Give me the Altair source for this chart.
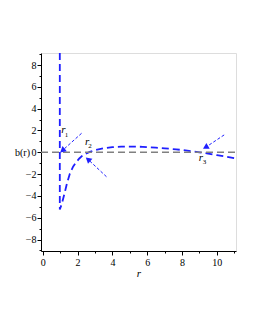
import altair as alt
import pandas as pd

# curve b(r)
curve_r = [0.98, 0.98, 1.1, 1.27, 1.4, 1.56, 1.75, 1.94, 2.1, 2.32, 2.7, 3.0, 3.5, 4.0, 4.5, 5.0,
           5.75, 6.5, 7.0, 7.66, 8.3, 9.0, 9.5, 10.0, 10.5, 11.1]
curve_b = [9.1, -5.25, -4.7, -3.65, -2.8, -1.95, -1.3, -0.88, -0.57, -0.25, 0.03, 0.2, 0.37, 0.47,
           0.51, 0.52, 0.5, 0.42, 0.36, 0.27, 0.15, 0.0, -0.12, -0.26, -0.4, -0.57]

zero_r = [-0.1, 11.1]
zero_b = [0, 0]

# arrows (start, head)
arrow_id = ["a1", "a2", "a3"]
arrow_r0 = [2.23, 3.66, 10.42]
arrow_b0 = [1.74, -2.24, 1.59]
arrow_r1 = [1.13, 2.6, 9.35]
arrow_b1 = [0.16, -0.65, 0.45]
arrow_angle = [230, 311, 240]

# labels r1 r2 r3
lab_r = [1.18, 2.55, 9.09]
lab_b = [2.05, 0.97, -0.55]
sub_text = ["1", "2", "3"]
sub_r = [1.37, 2.72, 9.29]
sub_b = [1.62, 0.55, -0.9]

x_major = [0, 2, 4, 6, 8, 10]
x_minor = [1, 3, 5, 7, 9, 11]
y_major = [-8, -6, -4, -2, 0, 2, 4, 6, 8]
y_minor = [-9, -7, -5, -3, -1, 1, 3, 5, 7, 9]

XD = [-0.1, 11.1]
YD = [-9.05, 9.1]
FONT = "Liberation Serif"
BLUE = "#1f1fff"

xs = alt.Scale(domain=XD, nice=False, zero=False)
ys = alt.Scale(domain=YD, nice=False, zero=False)

df_curve = pd.DataFrame({"r": curve_r, "b": curve_b, "i": range(len(curve_r))})
df_zero = pd.DataFrame({"r": zero_r, "b": zero_b})

rows = []
for k in range(len(arrow_id)):
    rows.append({"id": arrow_id[k], "r": arrow_r0[k], "b": arrow_b0[k], "o": 0})
    rows.append({"id": arrow_id[k], "r": arrow_r1[k], "b": arrow_b1[k], "o": 1})
df_arr = pd.DataFrame(rows)
df_head = pd.DataFrame({"r": arrow_r1, "b": arrow_b1, "a": arrow_angle})
df_lab = pd.DataFrame({"r": lab_r, "b": lab_b, "t": ["r"] * 3})
df_sub = pd.DataFrame({"r": sub_r, "b": sub_b, "t": sub_text})

curve = alt.Chart(df_curve).mark_line(color=BLUE, strokeWidth=1.8, strokeDash=[7, 4], clip=True).encode(
    x=alt.X("r:Q", scale=xs, axis=alt.Axis(
        orient="bottom", values=x_major, title="r", titleFontStyle="italic", titleFont=FONT,
        titleFontSize=11, titleFontWeight="normal", titleY=22, titleBaseline="middle",
        labelFont=FONT, labelFontSize=10, labelPadding=2, tickSize=4, grid=False,
        domainColor="black", tickColor="black", labelColor="black", titleColor="black")),
    y=alt.Y("b:Q", scale=ys, axis=alt.Axis(
        orient="left", values=y_major, title="b(r)", titleAngle=0, titleFont=FONT,
        titleFontSize=10, titleFontWeight="normal", titleX=-19, titleY=99.6,
        titleAlign="center", titleBaseline="middle",
        labelFont=FONT, labelFontSize=10, labelPadding=1, tickSize=4, grid=False,
        domainColor="black", tickColor="black", labelColor="black", titleColor="black")),
    order="i:Q",
)

minor = alt.Chart(pd.DataFrame({"r": [0], "b": [0]})).mark_point(opacity=0).encode(
    x=alt.X("r:Q", scale=xs, axis=alt.Axis(orient="bottom", values=x_minor, labels=False, title=None,
                                           tickSize=2, grid=False, domain=False, tickColor="black")),
    y=alt.Y("b:Q", scale=ys, axis=alt.Axis(orient="left", values=y_minor, labels=False, title=None,
                                           tickSize=2, grid=False, domain=False, tickColor="black")),
)

zero = alt.Chart(df_zero).mark_line(color="#808080", strokeWidth=1.5, strokeDash=[7, 4]).encode(
    x=alt.X("r:Q", scale=xs, axis=None),
    y=alt.Y("b:Q", scale=ys, axis=None),
)

arr = alt.Chart(df_arr).mark_line(color=BLUE, strokeWidth=1, strokeDash=[3, 2]).encode(
    x=alt.X("r:Q", scale=xs, axis=None),
    y=alt.Y("b:Q", scale=ys, axis=None),
    detail="id:N",
    order="o:Q",
)

heads = alt.Chart(df_head).mark_point(shape="triangle-up", filled=True, color=BLUE, size=45, opacity=1).encode(
    x=alt.X("r:Q", scale=xs, axis=None),
    y=alt.Y("b:Q", scale=ys, axis=None),
    angle=alt.Angle("a:Q", scale=None),
)

labs = alt.Chart(df_lab).mark_text(font=FONT, fontSize=11, fontStyle="italic", color="black").encode(
    x=alt.X("r:Q", scale=xs, axis=None),
    y=alt.Y("b:Q", scale=ys, axis=None),
    text="t:N",
)
subs = alt.Chart(df_sub).mark_text(font=FONT, fontSize=7, color="black").encode(
    x=alt.X("r:Q", scale=xs, axis=None),
    y=alt.Y("b:Q", scale=ys, axis=None),
    text="t:N",
)

chart = alt.layer(curve, minor, zero, arr, heads, labs, subs).resolve_axis(
    x="independent", y="independent"
).properties(
    width=195, height=198,
    autosize=alt.AutoSizeParams(type="none"),
    padding={"left": 33, "top": 45, "right": 10, "bottom": 50},
).configure_view(stroke="black", strokeWidth=1).configure(background="white").configure_axis(
    labelFont=FONT, titleFont=FONT
)

chart.save("out.html", embed_options={"renderer": "svg", "actions": False})
